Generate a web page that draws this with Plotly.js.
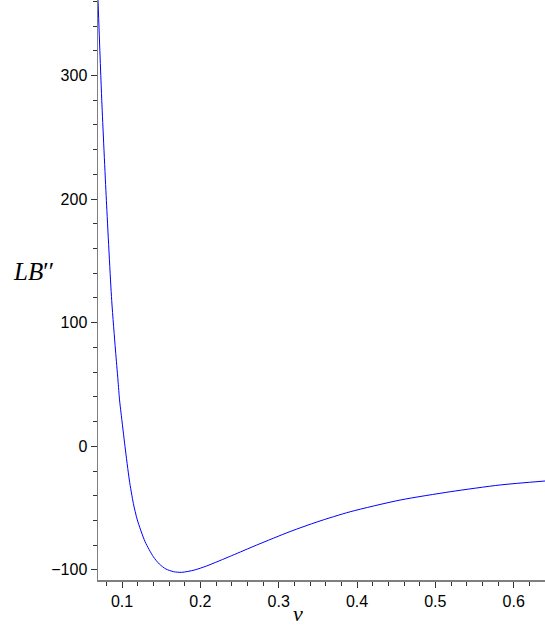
<!DOCTYPE html>
<html>
<head>
<meta charset="utf-8">
<script src="https://cdn.plot.ly/plotly-3.0.1.min.js"></script>
<style>html,body{margin:0;padding:0;background:#fff;}#chart{width:545px;height:625px;}</style>
</head>
<body>
<div id="chart"></div>
<script>
// Values
var vValues = [0.0693, 0.0741, 0.0800, 0.0868, 0.0916, 0.0948, 0.0968, 0.0987, 0.1038, 0.1093, 0.1144, 0.1195, 0.1294, 0.1400, 0.1476, 0.1560, 0.1660, 0.1762, 0.1920, 0.2082, 0.2400, 0.2720, 0.3146, 0.3500, 0.3912, 0.4551, 0.5189, 0.5828, 0.6400];
var lbValues = [361, 280, 199, 118, 77.9, 53.6, 37.5, 27, -0.3, -27.3, -46.1, -59.6, -77.2, -89.4, -95.3, -99.3, -101.5, -102, -100.2, -96.8, -88.5, -79.9, -69, -61, -53, -43.5, -36.8, -31.3, -28.1];
var yTickVals = [-100, 0, 100, 200, 300];
var xTickVals = [0.1, 0.2, 0.3, 0.4, 0.5, 0.6];
var xTickText = ['0.1', '0.2', '0.3', '0.4', '0.5', '0.6'];

var trace = {
  x: vValues,
  y: lbValues,
  type: 'scatter',
  mode: 'lines',
  line: {color: '#0000ff', width: 1, shape: 'spline', smoothing: 0.7},
  hoverinfo: 'none'
};

var axisCommon = {
  showgrid: false,
  zeroline: false,
  showline: true,
  linecolor: '#7f7f7f',
  linewidth: 1.5,
  ticks: 'outside',
  ticklen: 6,
  tickwidth: 1,
  tickcolor: '#333',
  tickfont: {family: 'Liberation Sans, Arial, sans-serif', size: 16, color: '#000'}
};

var layout = {
  width: 545,
  height: 625,
  margin: {l: 98, r: 0, t: 0, b: 45},
  paper_bgcolor: '#fff',
  plot_bgcolor: '#fff',
  showlegend: false,
  xaxis: Object.assign({}, axisCommon, {
    range: [0.0693, 0.640],
    tickvals: xTickVals,
    ticktext: xTickText,
    minor: {dtick: 0.02, tick0: 0, ticks: 'outside', ticklen: 4, tickcolor: '#333', showgrid: false}
  }),
  yaxis: Object.assign({}, axisCommon, {
    range: [-108.2, 361.1],
    tickvals: yTickVals,
    minor: {dtick: 20, tick0: 0, ticks: 'outside', ticklen: 4, tickcolor: '#333', showgrid: false}
  }),
  annotations: [
    {text: '<i>LB</i>′′', xref: 'paper', yref: 'paper', x: -0.094, y: 0.532, xanchor: 'right', yanchor: 'middle', showarrow: false,
     font: {family: 'Liberation Serif, Times New Roman, serif', size: 25, color: '#000'}},
    {text: '<i>v</i>', xref: 'paper', yref: 'paper', x: 0.447, y: -0.058, xanchor: 'center', yanchor: 'middle', showarrow: false,
     font: {family: 'Liberation Serif, Times New Roman, serif', size: 22, color: '#000'}}
  ]
};

Plotly.newPlot('chart', [trace], layout, {displayModeBar: false, staticPlot: true});
</script>
</body>
</html>
